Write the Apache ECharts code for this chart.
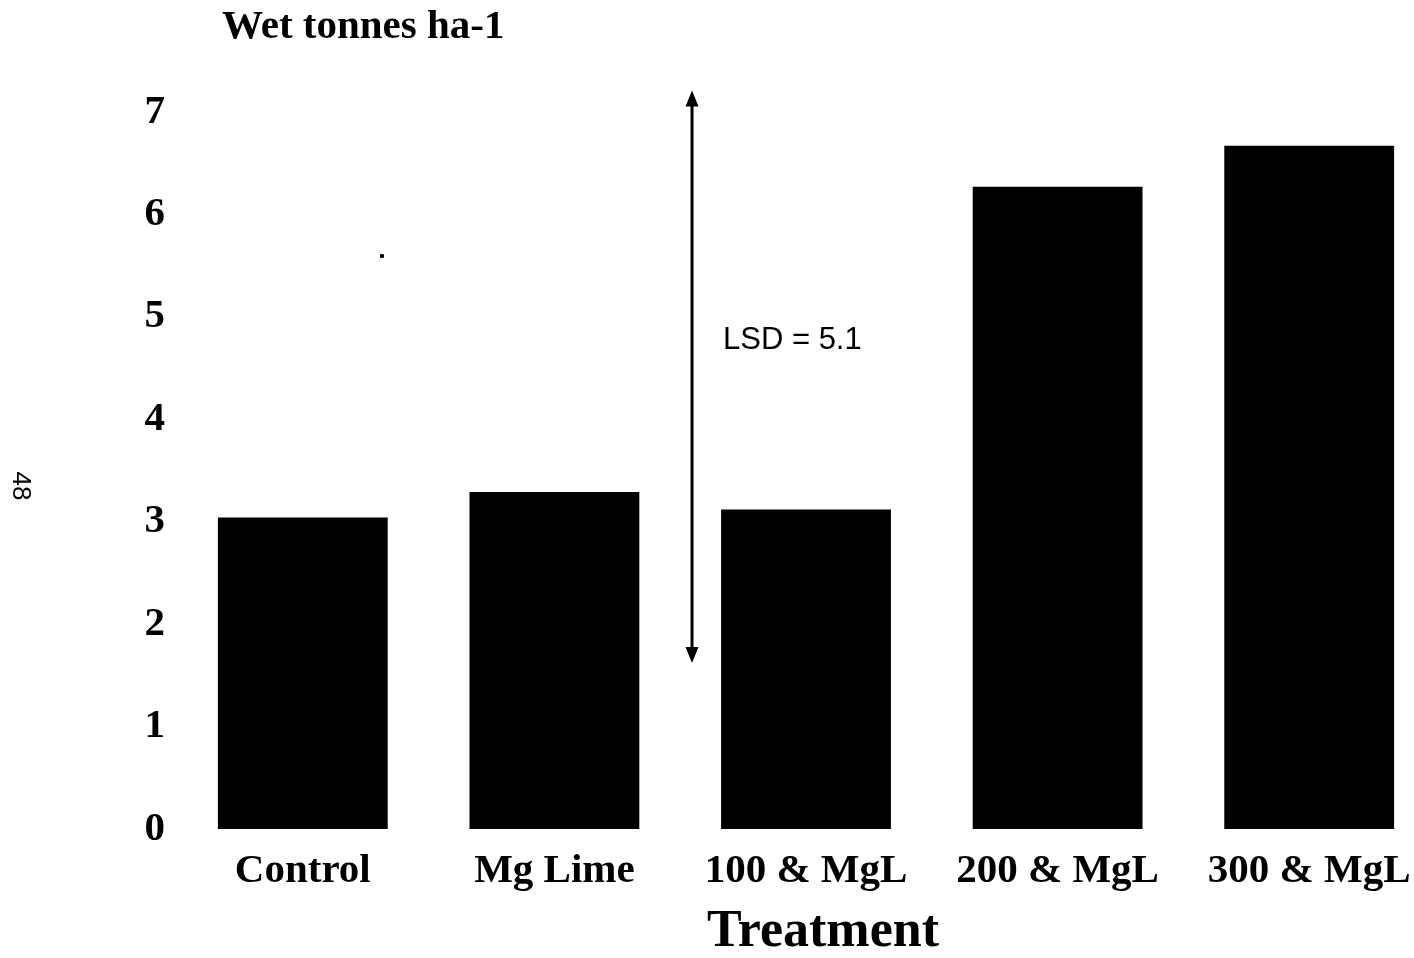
<!DOCTYPE html>
<html>
<head>
<meta charset="utf-8">
<script src="https://cdn.jsdelivr.net/npm/echarts@6/dist/echarts.min.js"></script>
<style>
html,body{margin:0;padding:0;background:#fff;}
#chart{width:1414px;height:958px;}
</style>
</head>
<body>
<div id="chart"></div>
<script>
const categories = ['Control', 'Mg Lime', '100 & MgL', '200 & MgL', '300 & MgL'];
const wetTonnes = [3.04, 3.29, 3.12, 6.27, 6.67];
const yTicks = [0, 1, 2, 3, 4, 5, 6, 7];
const lsdArrow = { x: 1.547, from: 7.21, to: 1.62, label: 'LSD = 5.1' };

const serif = "'Liberation Serif', 'Times New Roman', serif";
const chart = echarts.init(document.getElementById('chart'), null, { renderer: 'canvas' });

function renderArrow(params, api) {
  const top = api.coord([api.value(0), api.value(1)]);
  const bot = api.coord([api.value(0), api.value(2)]);
  const hw = 6.5, hl = 16;
  return {
    type: 'group',
    children: [
      { type: 'line', shape: { x1: top[0], y1: top[1] + hl - 2, x2: bot[0], y2: bot[1] - hl + 2 },
        style: { stroke: '#000', lineWidth: 3 } },
      { type: 'polygon', shape: { points: [[top[0], top[1]], [top[0] - hw, top[1] + hl], [top[0] + hw, top[1] + hl]] },
        style: { fill: '#000' } },
      { type: 'polygon', shape: { points: [[bot[0], bot[1]], [bot[0] - hw, bot[1] - hl], [bot[0] + hw, bot[1] - hl]] },
        style: { fill: '#000' } }
    ]
  };
}

chart.setOption({
  backgroundColor: '#fff',
  animation: false,
  grid: { left: 177, width: 1258, top: 112, bottom: 129, containLabel: false, outerBoundsMode: 'none' },
  xAxis: [
    {
      type: 'category',
      data: categories,
      boundaryGap: true,
      axisLine: { show: false },
      axisTick: { show: false },
      axisLabel: { color: '#000', fontFamily: serif, fontWeight: 'bold', fontSize: 41, margin: 22, interval: 0 }
    },
    { type: 'value', min: -0.5, max: 4.5, show: false }
  ],
  yAxis: {
    type: 'value',
    min: yTicks[0],
    max: yTicks[yTicks.length - 1],
    interval: 1,
    axisLine: { show: false },
    axisTick: { show: false },
    splitLine: { show: false },
    axisLabel: { color: '#000', fontFamily: serif, fontWeight: 'bold', fontSize: 41, margin: 12 }
  },
  series: [
    {
      type: 'bar',
      data: wetTonnes,
      barWidth: '67.5%',
      itemStyle: { color: '#000' },
      xAxisIndex: 0
    },
    {
      type: 'custom',
      xAxisIndex: 1,
      clip: false,
      silent: true,
      data: [[lsdArrow.x, lsdArrow.from, lsdArrow.to]],
      encode: { x: 0, y: [1, 2] },
      renderItem: renderArrow
    }
  ],
  graphic: [
    {
      type: 'text', left: 222, top: 7,
      style: { text: 'Wet tonnes ha-1', fill: '#000', font: "bold 41px " + serif }
    },
    {
      type: 'text', x: 823, y: 933,
      style: { text: 'Treatment', fill: '#000', font: "bold 52px " + serif, textAlign: 'center', textVerticalAlign: 'middle' }
    },
    {
      type: 'text', x: 723, y: 340,
      style: { text: lsdArrow.label, fill: '#000', font: "31px 'Liberation Sans', Arial, sans-serif", textAlign: 'left', textVerticalAlign: 'middle' }
    },
    {
      type: 'text', x: 20, y: 486, rotation: -Math.PI / 2,
      style: { text: '48', fill: '#000', font: "26px 'Liberation Sans', Arial, sans-serif", textAlign: 'center', textVerticalAlign: 'middle' }
    },
    {
      type: 'circle', shape: { cx: 382, cy: 256, r: 2.2 }, style: { fill: '#000' }
    }
  ]
});
</script>
</body>
</html>
